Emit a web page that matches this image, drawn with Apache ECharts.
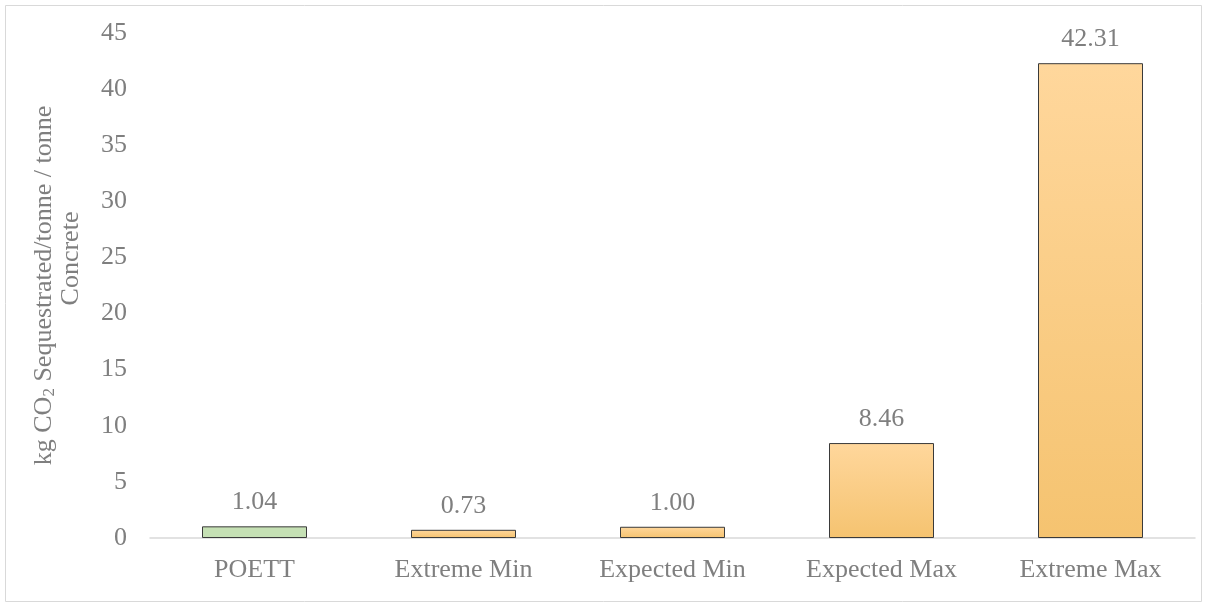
<!DOCTYPE html>
<html>
<head>
<meta charset="utf-8">
<script src="https://cdn.jsdelivr.net/npm/echarts@6/dist/echarts.min.js"></script>
<style>
  html, body { margin: 0; padding: 0; background: #fff; }
  #chart { width: 1207px; height: 607px; }
</style>
</head>
<body>
<div id="chart"></div>
<script>
// Sequestration per tonne of concrete, by scenario
const categories = ['POETT', 'Extreme Min', 'Expected Min', 'Expected Max', 'Extreme Max'];
const values = [1.04, 0.73, 1.00, 8.46, 42.31];
const yTicks = { min: 0, max: 45, interval: 5 };

const serif = '"Liberation Serif", "Times New Roman", serif';
const textGray = '#7f7f7f';
const fontSize = 26;

const orangeFill = new echarts.graphic.LinearGradient(0, 0, 0, 1, [
  { offset: 0, color: '#FFD79C' },
  { offset: 1, color: '#F5C370' }
]);
const greenFill = '#C5E0B4';

const chart = echarts.init(document.getElementById('chart'));
chart.setOption({
  animation: false,
  backgroundColor: '#fff',
  graphic: [{
    type: 'rect',
    shape: { x: 5.5, y: 5.5, width: 1196, height: 596 },
    style: { fill: 'none', stroke: '#d9d9d9', lineWidth: 1 },
    silent: true
  }],
  grid: { left: 150, right: 12, top: 33, bottom: 69 },
  xAxis: {
    type: 'category',
    data: categories,
    axisLine: { lineStyle: { color: '#d9d9d9', width: 1.5 } },
    axisTick: { show: false },
    axisLabel: { color: textGray, fontFamily: serif, fontSize: fontSize, margin: 19 }
  },
  yAxis: {
    type: 'value',
    min: yTicks.min,
    max: yTicks.max,
    interval: yTicks.interval,
    splitLine: { show: false },
    axisLine: { show: false },
    axisTick: { show: false },
    axisLabel: { color: textGray, fontFamily: serif, fontSize: fontSize, margin: 23 },
    name: '{a|kg CO}{s|2}{a| Sequestrated/tonne / tonne}\n{c|Concrete}',
    nameLocation: 'middle',
    nameGap: 65,
    nameRotate: 90,
    nameTextStyle: {
      color: textGray,
      fontFamily: serif,
      fontSize: fontSize,
      lineHeight: 27,
      rich: {
        a: { color: textGray, fontFamily: serif, fontSize: fontSize, lineHeight: 27 },
        s: { color: textGray, fontFamily: serif, fontSize: 17, lineHeight: 27, verticalAlign: 'bottom', padding: [10, 0, 0, 0] },
        c: { color: textGray, fontFamily: serif, fontSize: fontSize, lineHeight: 27, padding: [0, 0, 0, 54] }
      }
    }
  },
  series: [{
    type: 'bar',
    data: values.map((v, i) => ({
      value: v,
      itemStyle: { color: i === 0 ? greenFill : orangeFill }
    })),
    barWidth: 105,
    itemStyle: { borderColor: '#3a3a3a', borderWidth: 1 },
    label: {
      show: true,
      position: 'top',
      distance: 11,
      color: textGray,
      fontFamily: serif,
      fontSize: fontSize,
      formatter: p => p.value.toFixed(2)
    }
  }]
});
</script>
</body>
</html>
